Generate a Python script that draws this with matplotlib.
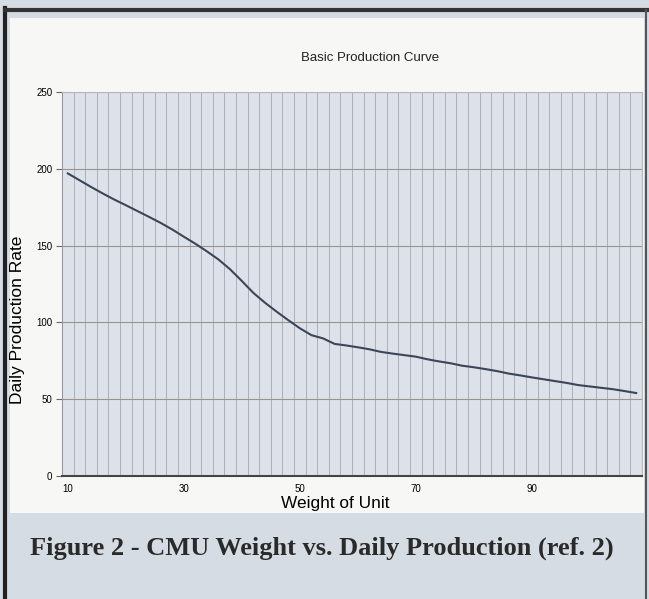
import numpy as np
import matplotlib
matplotlib.use('Agg')
import matplotlib.pyplot as plt
from matplotlib.patches import Rectangle

# values
weight = [10, 12, 14, 16, 18, 20, 22, 24, 26, 28,
          30, 32, 34, 36, 38, 40, 42, 44, 46, 48,
          50, 52, 54, 56, 58, 60, 62, 64, 66, 68,
          70, 72, 74, 76, 78, 80, 82, 84, 86, 88,
          90, 92, 94, 96, 98, 100, 102, 104, 106, 108]
rate = [197, 192.6, 188.2, 184, 180, 176.3, 172.5, 168.7, 164.8, 160.5,
        155.8, 151.2, 146.2, 140.9, 134.5, 127, 119.2, 112.8, 107, 101.5,
        96.2, 91.7, 89.6, 86, 85, 83.8, 82.5, 80.8, 79.7, 78.7,
        77.7, 76, 74.6, 73.4, 71.8, 70.8, 69.6, 68.3, 66.7, 65.5,
        64.2, 63, 61.8, 60.6, 59.2, 58.3, 57.4, 56.5, 55.3, 54]
xtick_labels = [10, 30, 50, 70, 90]
ytick_labels = [0, 50, 100, 150, 200, 250]

W, H = 649, 599
fig = plt.figure(figsize=(W / 100, H / 100), dpi=100)
fig.patch.set_facecolor('#d6dce3')

# page frame + white chart area
bg = fig.add_axes([0, 0, 1, 1])
bg.set_xlim(0, W)
bg.set_ylim(H, 0)
bg.axis('off')
bg.add_patch(Rectangle((0, 0), W, H, facecolor='#d6dce3', edgecolor='none'))
bg.add_patch(Rectangle((10, 18), 634, 495, facecolor='#f7f7f6', edgecolor='none'))
bg.plot([5, 5], [8, H], color='#222222', lw=3)
bg.plot([5, W], [10, 10], color='#333333', lw=3)
bg.plot([646, 646], [10, H], color='#555555', lw=1.5)

ax = fig.add_axes([62 / W, 1 - 476 / H, 580 / W, 384 / H])
ax.set_facecolor('#dde2ea')
ax.plot(weight, rate, color='#3b4656', lw=1.5, zorder=3)
ax.set_xlim(9, 109)
ax.set_ylim(0, 250)

ax.set_xticks(xtick_labels)
ax.set_xticklabels([str(v) for v in xtick_labels], fontsize=7, family='Liberation Sans')
ax.set_yticks(ytick_labels)
ax.set_yticklabels([str(v) for v in ytick_labels], fontsize=7, family='Liberation Sans')
ax.tick_params(axis='x', length=0, pad=6)
ax.tick_params(axis='y', length=4, color='#666666', pad=3)

# vertical gridlines every two categories, horizontal every 50
for xv in np.arange(11, 109, 2):
    ax.axvline(xv, color='#aeb0b6', lw=0.7, zorder=1)
for yv in ytick_labels[1:]:
    ax.axhline(yv, color='#9b9391', lw=0.8, zorder=2)

for s in ['top', 'right']:
    ax.spines[s].set_color('#b8b8bc')
    ax.spines[s].set_linewidth(0.8)
ax.spines['left'].set_color('#999999')
ax.spines['bottom'].set_color('#444444')
ax.spines['bottom'].set_linewidth(1.5)

ax.set_xlabel('Weight of Unit', fontsize=12.4, family='Liberation Sans')
ax.xaxis.set_label_coords((335 - 62) / 580, -(496 - 476) / 384)
ax.set_ylabel('Daily Production Rate', fontsize=12.5, family='Liberation Sans')
ax.yaxis.set_label_coords((25 - 62) / 580, (476 - 320) / 384)

fig.text(370 / W, 1 - 58 / H, 'Basic Production Curve', fontsize=9.5,
         family='Liberation Sans', ha='center', va='center', color='#222222')
fig.text(322 / W, 1 - 548 / H, 'Figure 2 - CMU Weight vs. Daily Production (ref. 2)',
         fontsize=19, family='Liberation Serif', weight='bold', ha='center', va='center',
         color='#2a2a2a')

plt.savefig('out.png', dpi=100)
